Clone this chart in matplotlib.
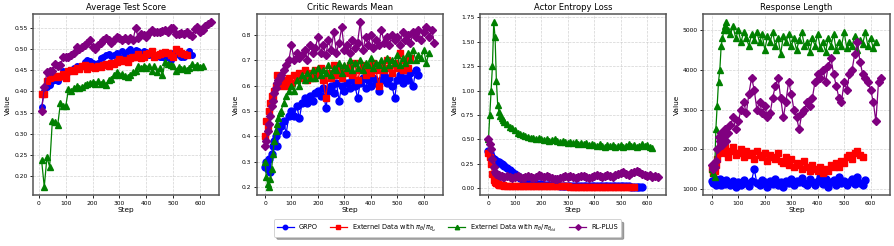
import numpy as np
import matplotlib
matplotlib.use("Agg")
import matplotlib.pyplot as plt

# ---- Average Test Score (evaluated every 10 steps) ----
test_grpo = [0.363, 0.400, 0.410, 0.415, 0.425, 0.428, 0.425, 0.435, 0.448, 0.440,
             0.445, 0.450, 0.455, 0.460, 0.458, 0.460, 0.470, 0.475, 0.472, 0.468,
             0.465, 0.468, 0.478, 0.480, 0.485, 0.488, 0.483, 0.485, 0.490, 0.480,
             0.495, 0.485, 0.495, 0.500, 0.490, 0.497, 0.495, 0.490, 0.495, 0.492,
             0.485, 0.490, 0.480, 0.485, 0.480, 0.480, 0.478, 0.485, 0.475, 0.490,
             0.490, 0.485, 0.482, 0.480, 0.485, 0.495, 0.485]
test_ext_w = [0.393, 0.395, 0.425, 0.432, 0.435, 0.436, 0.435, 0.436, 0.440, 0.432,
              0.448, 0.450, 0.448, 0.455, 0.452, 0.460, 0.462, 0.452, 0.460, 0.458,
              0.456, 0.460, 0.458, 0.462, 0.465, 0.460, 0.468, 0.465, 0.470, 0.476,
              0.472, 0.475, 0.470, 0.478, 0.480, 0.482, 0.488, 0.478, 0.482, 0.488,
              0.490, 0.495, 0.480, 0.485, 0.488, 0.490, 0.492, 0.490, 0.485, 0.480,
              0.500, 0.495, 0.490, 0.488, 0.485]
test_ext_old = [0.238, 0.175, 0.245, 0.222, 0.330, 0.328, 0.320, 0.372, 0.365, 0.365,
                0.405, 0.400, 0.408, 0.412, 0.408, 0.410, 0.415, 0.418, 0.420, 0.422,
                0.418, 0.424, 0.418, 0.422, 0.416, 0.428, 0.430, 0.438, 0.445, 0.438,
                0.440, 0.436, 0.435, 0.438, 0.445, 0.448, 0.460, 0.455, 0.460, 0.455,
                0.460, 0.448, 0.460, 0.445, 0.455, 0.438, 0.470, 0.465, 0.462, 0.460,
                0.448, 0.458, 0.452, 0.455, 0.450, 0.455, 0.465, 0.458, 0.462, 0.458,
                0.460]
test_rlplus = [0.353, 0.410, 0.445, 0.448, 0.448, 0.465, 0.460, 0.462, 0.480, 0.480,
               0.482, 0.485, 0.490, 0.505, 0.500, 0.505, 0.510, 0.515, 0.520, 0.505,
               0.500, 0.510, 0.515, 0.520, 0.525, 0.520, 0.515, 0.520, 0.528, 0.525,
               0.520, 0.525, 0.520, 0.525, 0.520, 0.550, 0.525, 0.535, 0.532, 0.528,
               0.538, 0.545, 0.540, 0.540, 0.540, 0.542, 0.545, 0.540, 0.550, 0.550,
               0.535, 0.535, 0.538, 0.535, 0.540, 0.535, 0.530, 0.548, 0.552, 0.540,
               0.545, 0.555, 0.560, 0.563]

# ---- training curves: steps 0..55 every 5, then every 10 ----
critic_grpo = [0.28, 0.30, 0.27, 0.31, 0.26, 0.33, 0.36, 0.38, 0.40, 0.36, 0.42, 0.44,
               0.44, 0.46, 0.41, 0.48, 0.50, 0.48, 0.52, 0.47, 0.53, 0.55, 0.53, 0.56,
               0.54, 0.57, 0.58, 0.56, 0.59, 0.51, 0.58, 0.60, 0.57, 0.61, 0.54, 0.60,
               0.58, 0.61, 0.59, 0.62, 0.60, 0.55, 0.61, 0.63, 0.59, 0.62, 0.60, 0.63,
               0.61, 0.58, 0.62, 0.64, 0.61, 0.63, 0.60, 0.55, 0.62, 0.64, 0.61, 0.63,
               0.62, 0.65, 0.60, 0.66, 0.64]
critic_ext_w = [0.40, 0.46, 0.44, 0.50, 0.53, 0.56, 0.55, 0.58, 0.60, 0.64, 0.62, 0.60,
                0.61, 0.62, 0.60, 0.63, 0.61, 0.64, 0.62, 0.65, 0.63, 0.66, 0.62, 0.65,
                0.63, 0.66, 0.64, 0.67, 0.62, 0.55, 0.65, 0.63, 0.68, 0.64, 0.66, 0.63,
                0.67, 0.65, 0.68, 0.64, 0.69, 0.62, 0.66, 0.68, 0.64, 0.67, 0.65, 0.69,
                0.66, 0.60, 0.68, 0.66, 0.70, 0.67, 0.65, 0.69, 0.67, 0.73, 0.66, 0.70,
                0.67, 0.71]
critic_ext_old = [0.30, 0.24, 0.21, 0.20, 0.23, 0.27, 0.33, 0.38, 0.42, 0.45, 0.47, 0.49,
                  0.50, 0.53, 0.56, 0.58, 0.60, 0.58, 0.62, 0.60, 0.64, 0.62, 0.65, 0.63,
                  0.66, 0.63, 0.67, 0.64, 0.66, 0.65, 0.68, 0.64, 0.67, 0.66, 0.69, 0.65,
                  0.68, 0.67, 0.70, 0.66, 0.69, 0.67, 0.70, 0.66, 0.69, 0.68, 0.71, 0.67,
                  0.69, 0.68, 0.70, 0.67, 0.71, 0.68, 0.70, 0.69, 0.72, 0.68, 0.71, 0.69,
                  0.73, 0.70, 0.74, 0.70, 0.72, 0.71, 0.74, 0.69, 0.73]
critic_rlplus = [0.36, 0.38, 0.42, 0.45, 0.48, 0.52, 0.54, 0.57, 0.59, 0.61, 0.62, 0.63,
                 0.64, 0.66, 0.68, 0.70, 0.76, 0.70, 0.73, 0.71, 0.72, 0.74, 0.70, 0.76,
                 0.73, 0.75, 0.79, 0.73, 0.76, 0.72, 0.78, 0.74, 0.81, 0.73, 0.77, 0.83,
                 0.74, 0.76, 0.73, 0.78, 0.75, 0.77, 0.85, 0.74, 0.79, 0.76, 0.80, 0.75,
                 0.78, 0.76, 0.82, 0.77, 0.79, 0.76, 0.80, 0.78, 0.79, 0.76, 0.81, 0.78,
                 0.80, 0.77, 0.81, 0.79, 0.82, 0.78, 0.81, 0.83, 0.79, 0.82, 0.77]

entropy_grpo = [0.38, 0.36, 0.33, 0.31, 0.30, 0.29, 0.28, 0.27, 0.27, 0.26, 0.25, 0.24,
                0.23, 0.21, 0.19, 0.17, 0.15, 0.13, 0.11, 0.09, 0.07, 0.06, 0.05, 0.05,
                0.04, 0.04, 0.04, 0.035, 0.035, 0.03, 0.03, 0.03, 0.03, 0.028, 0.028, 0.027,
                0.026, 0.026, 0.025, 0.025, 0.024, 0.024, 0.024, 0.023, 0.023, 0.023, 0.022, 0.022,
                0.022, 0.021, 0.021, 0.021, 0.020, 0.020, 0.020, 0.020, 0.019, 0.019, 0.019, 0.019,
                0.018, 0.018, 0.018, 0.018, 0.018]
entropy_ext_w = [0.36, 0.32, 0.25, 0.15, 0.09, 0.06, 0.05, 0.04, 0.035, 0.032, 0.030, 0.029,
                 0.028, 0.027, 0.026, 0.026, 0.025, 0.025, 0.024, 0.024, 0.023, 0.023, 0.023, 0.022,
                 0.022, 0.022, 0.021, 0.021, 0.021, 0.020, 0.020, 0.020, 0.020, 0.019, 0.019, 0.019,
                 0.019, 0.018, 0.018, 0.018, 0.018, 0.018, 0.017, 0.017, 0.017, 0.017, 0.017, 0.016,
                 0.016, 0.016, 0.016, 0.016, 0.016, 0.015, 0.015, 0.015, 0.015, 0.015, 0.015, 0.015,
                 0.015, 0.015]
entropy_ext_old = [0.50, 0.75, 1.00, 1.25, 1.70, 1.55, 1.10, 0.85, 0.78, 0.74, 0.72, 0.70,
                   0.68, 0.66, 0.63, 0.62, 0.60, 0.57, 0.56, 0.55, 0.54, 0.53, 0.52, 0.52,
                   0.50, 0.51, 0.50, 0.49, 0.50, 0.48, 0.49, 0.50, 0.48, 0.47, 0.48, 0.47,
                   0.46, 0.47, 0.46, 0.47, 0.45, 0.46, 0.45, 0.46, 0.44, 0.45, 0.44, 0.43,
                   0.45, 0.43, 0.42, 0.44, 0.43, 0.44, 0.42, 0.43, 0.44, 0.42, 0.43, 0.45,
                   0.43, 0.44, 0.42, 0.43, 0.45, 0.43, 0.44, 0.42, 0.41]
entropy_rlplus = [0.50, 0.45, 0.40, 0.30, 0.22, 0.17, 0.15, 0.14, 0.14, 0.13, 0.13, 0.12,
                  0.12, 0.13, 0.12, 0.11, 0.12, 0.13, 0.12, 0.11, 0.12, 0.13, 0.12, 0.11,
                  0.12, 0.14, 0.13, 0.12, 0.13, 0.12, 0.11, 0.10, 0.10, 0.11, 0.12, 0.13,
                  0.12, 0.13, 0.12, 0.11, 0.12, 0.13, 0.13, 0.12, 0.11, 0.12, 0.13, 0.14,
                  0.13, 0.12, 0.13, 0.14, 0.13, 0.12, 0.14, 0.15, 0.16, 0.17, 0.15, 0.14,
                  0.16, 0.17, 0.18, 0.17, 0.15, 0.14, 0.13, 0.14, 0.12, 0.13, 0.12]

length_grpo = [1200, 1150, 1250, 1100, 1200, 1150, 1250, 1100, 1200, 1180, 1120, 1220,
               1150, 1100, 1200, 1050, 1180, 1100, 1220, 1150, 1080, 1200, 1500, 1150,
               1100, 1220, 1180, 1050, 1200, 1120, 1250, 1100, 1180, 1050, 1200, 1150,
               1250, 1100, 1200, 1180, 1280, 1150, 1100, 1250, 1180, 1100, 1200, 1300,
               1120, 1250, 1050, 1180, 1220, 1100, 1300, 1150, 1200, 1100, 1180, 1250,
               1120, 1300, 1150, 1100, 1220]
length_ext_w = [1500, 1400, 1450, 1600, 1750, 1900, 2000, 2050, 2000, 1950, 2050, 1900,
                1800, 1950, 2050, 1850, 1900, 2000, 1800, 1950, 1850, 1900, 1750, 1950,
                1850, 1800, 1900, 1700, 1850, 1800, 1750, 1900, 1700, 1650, 1800, 1600,
                1750, 1550, 1650, 1600, 1500, 1700, 1550, 1450, 1600, 1500, 1450, 1550,
                1400, 1500, 1450, 1600, 1550, 1650, 1550, 1700, 1650, 1800, 1850, 1750,
                1900, 1950, 1850, 1800]
length_ext_old = [1500, 1400, 1300, 2500, 3100, 3700, 4000, 4600, 4800, 5000, 5100, 5200,
                  5000, 4900, 5100, 4800, 5000, 4700, 4950, 4800, 4600, 4900, 4750, 4950,
                  4700, 4900, 4500, 4850, 4700, 4950, 4600, 4800, 4400, 4850, 4700, 4900,
                  4600, 4800, 4500, 4750, 4950, 4600, 4700, 4450, 4800, 4600, 4900, 4550,
                  4700, 4450, 4800, 4600, 4900, 4500, 4700, 4600, 4950, 4550, 4700, 4600,
                  4850, 4500, 4750, 4650, 4950, 4600, 4800, 4550, 4700]
length_rlplus = [1600, 1500, 1550, 1700, 2000, 2300, 2200, 2400, 2100, 2300, 2500, 2200,
                 2400, 2600, 2800, 2500, 2700, 3000, 3200, 2900, 3400, 3800, 3500, 3000,
                 3200, 2900, 3100, 2800, 2900, 3300, 3600, 3800, 3300, 2800, 3200, 3700,
                 3400, 3000, 2800, 2500, 2900, 3000, 3200, 3100, 3300, 3700, 3900, 3800,
                 4000, 3700, 4100, 4300, 3900, 3600, 3300, 3200, 3700, 3500, 3900, 4000,
                 4400, 4700, 4200, 3900, 3800, 3700, 3500, 3200, 2700, 3700, 3800]

test_steps = np.arange(10, 650, 10)
train_steps = np.concatenate([np.arange(0, 60, 5), np.arange(60, 650, 10)])

labels = ["GRPO",
          r"Externel Data with $\pi_\theta/\pi_{\theta_\omega}$",
          r"Externel Data with $\pi_\theta/\pi_{\theta_{old}}$",
          "RL-PLUS"]
colors = ["blue", "red", "green", "purple"]
markers = ["o", "s", "^", "D"]

panels = [
    ("Average Test Score", test_steps, [test_grpo, test_ext_w, test_ext_old, test_rlplus], 4.0),
    ("Critic Rewards Mean", train_steps, [critic_grpo, critic_ext_w, critic_ext_old, critic_rlplus], 5.0),
    ("Actor Entropy Loss", train_steps, [entropy_grpo, entropy_ext_w, entropy_ext_old, entropy_rlplus], 5.0),
    ("Response Length", train_steps, [length_grpo, length_ext_w, length_ext_old, length_rlplus], 5.0),
]

fig, axes = plt.subplots(1, 4, figsize=(8.95, 2.46), dpi=100)
plt.subplots_adjust(left=0.037, right=0.994, top=0.943, bottom=0.207, wspace=0.2)

for ax, (title, steps, series, msize) in zip(axes, panels):
    for vals, lab, c, m in zip(series, labels, colors, markers):
        ms = msize if m != "D" else msize * 0.9
        ax.plot(steps[:len(vals)], vals, color=c, marker=m, markersize=ms,
                linewidth=0.9, label=lab)
    ax.set_title(title, fontsize=6, pad=3)
    ax.set_xlabel("Step", fontsize=5.3, labelpad=1)
    ax.set_ylabel("Value", fontsize=5.3, labelpad=2)
    ax.set_xticks([0, 100, 200, 300, 400, 500, 600])
    ax.tick_params(labelsize=4.3, length=2.5, width=0.6, pad=1.5)
    ax.grid(True, linestyle="--", linewidth=0.5, color="#c8c8c8", alpha=0.8)
    for sp in ax.spines.values():
        sp.set_color("#555555")
        sp.set_linewidth(1.1)

axes[0].set_yticks(np.arange(0.20, 0.56, 0.05))
axes[1].set_yticks(np.arange(0.2, 0.81, 0.1))
axes[2].set_yticks(np.arange(0.0, 1.76, 0.25))
axes[3].set_yticks([1000, 2000, 3000, 4000, 5000])

handles, labs = axes[0].get_legend_handles_labels()
leg = fig.legend(handles, labs, loc="lower center", ncol=4, fontsize=4.8,
                 bbox_to_anchor=(0.5, 0.025), frameon=True, shadow=True,
                 handlelength=2.5, columnspacing=1.8, borderpad=0.45,
                 markerscale=0.8)
leg.get_frame().set_linewidth(0.6)

fig.savefig("out.png", dpi=100)
